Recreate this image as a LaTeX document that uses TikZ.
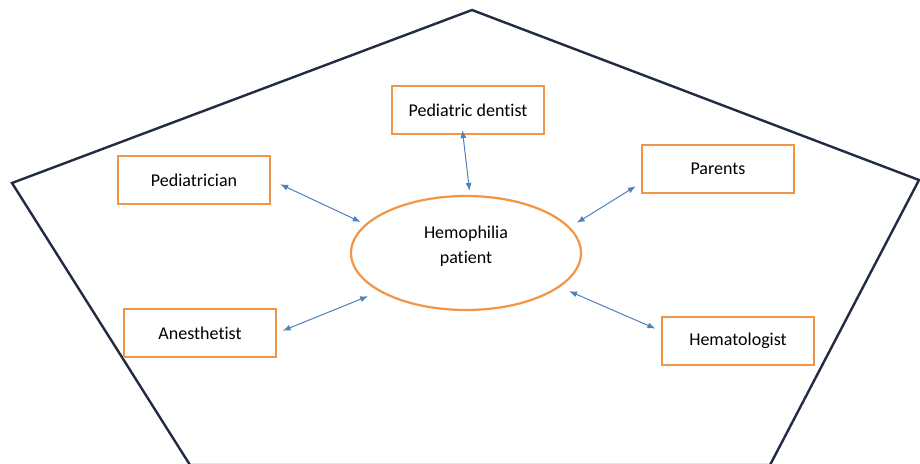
\documentclass[tikz,border=0pt]{standalone}
\usepackage{fontspec}
\setmainfont{Carlito}[Ligatures=NoCommon]
\usetikzlibrary{arrows.meta,shapes.geometric}
\definecolor{boxorange}{RGB}{240,150,70}
\definecolor{linkblue}{RGB}{79,129,189}
\definecolor{penta}{RGB}{33,43,68}
\tikzset{
    member/.style={draw=boxorange, line width=2.2pt, minimum width=152pt, minimum height=48pt, font=\fontsize{18}{21}\selectfont},
    link/.style={{Latex[length=8pt,width=6pt]}-{Latex[length=8pt,width=6pt]}, linkblue, line width=1pt}
}
\begin{document}
\begin{tikzpicture}[x=1pt,y=-1pt]
    \useasboundingbox (0,0) rectangle (920,463);
    \fill[white] (0,0) rectangle (920,463);
    \begin{scope}
    \clip (0,0) rectangle (920,463);
    \draw[penta, line width=2.4pt, line join=miter] (12,183) -- (472,10) -- (919,180) -- (770,465) -- (190,465) -- cycle;
    \end{scope}
    % patient in the middle
    \node[ellipse, draw=boxorange, line width=2.2pt, minimum width=230pt, minimum height=114pt,
        label={[font=\fontsize{18}{25}\selectfont, align=center, yshift=7pt]center:Hemophilia\\patient}] (pat) at (466,253) {};
    \node[member] (den) at (468,110) {Pediatric dentist};
    \node[member] (ped) at (194,180) {Pediatrician};
    \node[member] (par) at (718,169) {Parents};
    \node[member] (ane) at (200,333) {Anesthetist};
    \node[member] (hem) at (738,341) {Hematologist};
    \draw[link, shorten <=-5pt, shorten >=4pt] ([xshift=-5pt]den.south) -- ([xshift=4pt]pat.north);
    \draw[link, shorten <=10pt, shorten >=5pt] (ped.east) -- (pat.164);
    \draw[link, shorten <=6pt, shorten >=8pt] ([yshift=-14pt]par.west) -- (pat.14);
    \draw[link, shorten <=6pt, shorten >=12pt] (ane.east) -- (pat.204);
    \draw[link, shorten <=6pt, shorten >=10pt] ([yshift=10pt]hem.west) -- (pat.-20);
\end{tikzpicture}
\end{document}
